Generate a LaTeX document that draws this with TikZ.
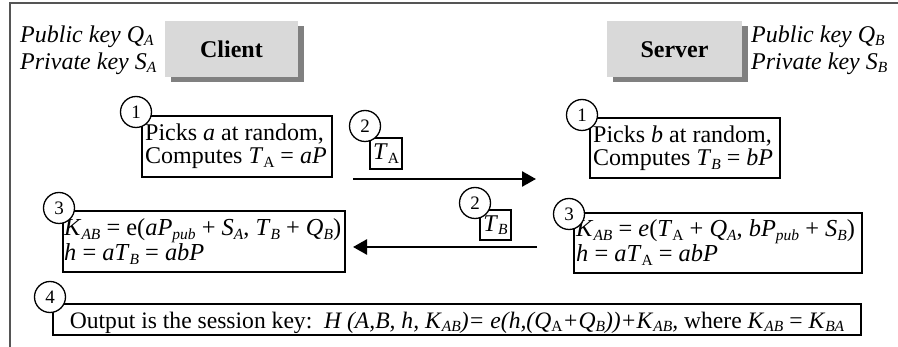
\documentclass[tikz,border=0pt]{standalone}
\usepackage{fontspec}
\setmainfont{Liberation Serif}
\usetikzlibrary{arrows.meta,shadows}
\definecolor{boxgray}{HTML}{D9D9D9}
\definecolor{shadowgray}{HTML}{808080}
\definecolor{framegray}{HTML}{555555}
\newcommand\sbu[1]{\raisebox{-0.15em}{\fontsize{15.5}{15.5}\selectfont #1}}
\newcommand\sbi[1]{\sbu{\itshape #1}}
\begin{document}
\begin{tikzpicture}[x=1pt,y=-1pt,
  party/.style={fill=boxgray, minimum width=#1, minimum height=56, inner sep=0,
    font=\bfseries\fontsize{24}{28}\selectfont,
    drop shadow={shadow xshift=6pt, shadow yshift=-5pt, fill=shadowgray, opacity=1}},
  stepbox/.style={draw, line width=1.8, inner sep=0pt},
  line1/.style={anchor=base west, inner sep=0pt, font=\fontsize{24}{27}\selectfont},
  line3/.style={anchor=base west, inner sep=0pt, font=\fontsize{24.4}{27}\selectfont},
  msgbox/.style={draw, line width=1.4, inner sep=0pt, font=\fontsize{24}{28}\selectfont},
  num/.style={circle, draw, fill=white, line width=1.3, minimum size=31, inner sep=0,
    font=\fontsize{19}{19}\selectfont},
  msgarrow/.style={line width=2.6, -{Triangle[length=14pt, width=15pt]}},
  keys/.style={align=left, inner sep=0, font=\itshape\fontsize{24}{27}\selectfont}
]
\useasboundingbox (0,0) rectangle (898,347);
\draw[framegray, line width=1.3] (10,347) -- (10,3) -- (898,3);

% parties
\node[party=133] (client) at (231.5,49) {Client};
\node[party=135] (server) at (674.5,49.5) {Server};
\node[keys, anchor=west] (ckeys) at (20,50) {Public key \textit{Q}\sbi{A}\\Private key \textit{S}\sbi{A}};
\node[keys, anchor=west] (skeys) at (751,50) {Public key \textit{Q}\sbi{B}\\Private key \textit{S}\sbi{B}};

% step 1
\node[stepbox, minimum width=190, minimum height=61] (c1) at (237,146.5) {};
\node[line1] (c1a) at (145,141) {Picks \textit{a} at random,};
\node[line1] (c1b) at (145,164) {Computes \textit{T}\sbu{A} = \textit{aP}};
\node[stepbox, minimum width=190, minimum height=60] (s1) at (685,148) {};
\node[line1] (s1a) at (593,143) {Picks \textit{b} at random,};
\node[line1] (s1b) at (593,166) {Computes \textit{T}\sbi{B} = \textit{bP}};

% step 2
\node[msgbox, minimum width=32, minimum height=31] (ta) at (386,153.5) {\textit{T}\sbu{A}};
\node[msgbox, minimum width=31, minimum height=30] (tb) at (495.5,225) {\textit{T}\sbi{B}};
\coordinate (a1s) at (353,179);
\coordinate (a1e) at (536,179);
\coordinate (a2s) at (537,247);
\coordinate (a2e) at (353,247);
\draw[msgarrow] (a1s) -- (a1e);
\draw[msgarrow] (a2s) -- (a2e);

% step 3
\node[stepbox, minimum width=282, minimum height=61] (c3) at (204,241.5) {};
\node[line3] (c3a) at (64,236)
  {\textit{K}\sbi{AB} = e(\textit{aP}\sbi{pub} + \textit{S}\sbi{A}, \textit{T}\sbi{B} + \textit{Q}\sbi{B})};
\node[line3] (c3b) at (64,261) {\textit{h} = \textit{aT}\sbi{B} = \textit{abP}};
\node[stepbox, minimum width=288, minimum height=60] (s3) at (718,243) {};
\node[line3] (s3a) at (576,237)
  {\textit{K}\sbi{AB} = \textit{e}(\textit{T}\sbu{A} + \textit{Q}\sbi{A}, \textit{bP}\sbi{pub} + \textit{S}\sbi{B})};
\node[line3] (s3b) at (576,262) {\textit{h} = \textit{aT}\sbu{A} = \textit{abP}};

% step 4
\node[draw, line width=1.8, minimum width=808, minimum height=31, inner sep=0,
  font=\fontsize{23.6}{26}\selectfont] (out) at (457,319.5)
  {\raisebox{-3pt}[\height][\depth]{Output is the session key:\ \ \textit{H (A,B, h, K}\sbi{AB}\textit{)= e(h,(Q}\sbu{A}\textit{+Q}\sbi{B}\textit{))+K}\sbi{AB}\textit{,} where \textit{K}\sbi{AB} = \textit{K}\sbi{BA}}};

% step numbers
\node[num] (n1c) at (136,112) {1};
\node[num] (n1s) at (582,115) {1};
\node[num] (n2a) at (365,126) {2};
\node[num] (n2b) at (475,203) {2};
\node[num] (n3c) at (59,208) {3};
\node[num] (n3s) at (569,214) {3};
\node[num] (n4) at (50,297) {4};
\end{tikzpicture}
\end{document}
